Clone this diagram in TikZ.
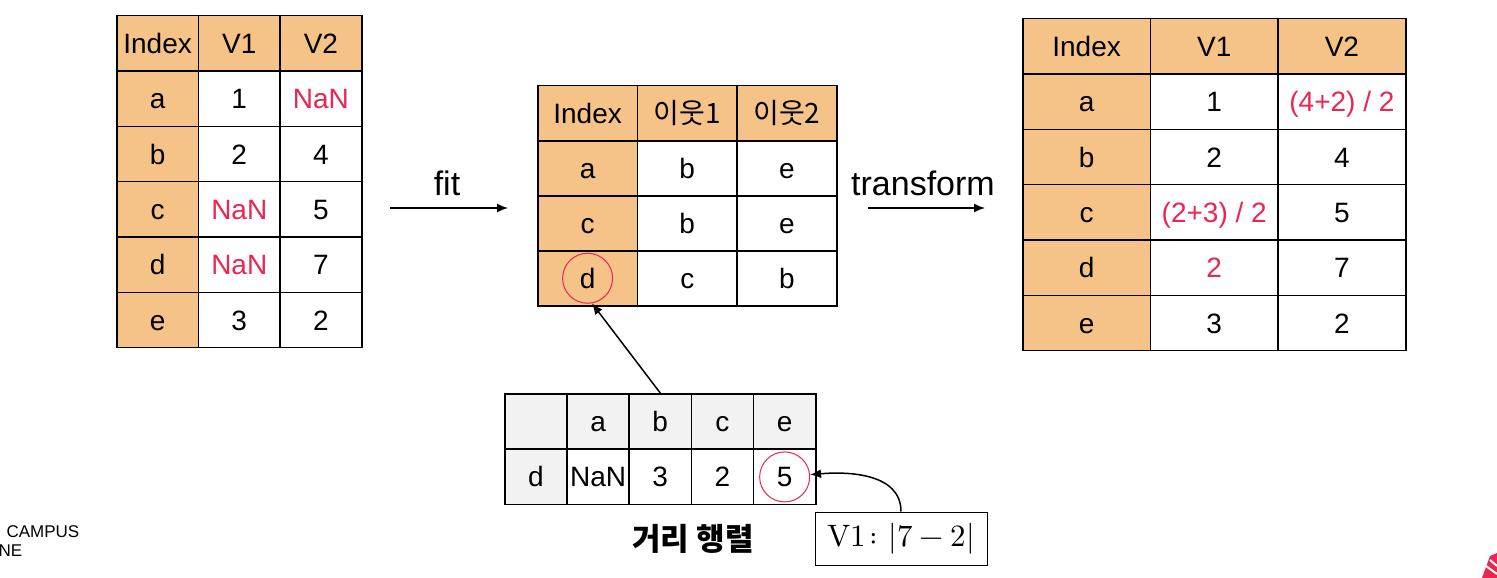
\documentclass[tikz,border=0pt]{standalone}
\usepackage{fontspec}
\usepackage{unicode-math}
\setmainfont{Liberation Sans}
\setmathfont{Latin Modern Math}
\newfontfamily\krfont{Noto Sans CJK KR}
\usetikzlibrary{arrows.meta,positioning}
\definecolor{hdr}{RGB}{245,194,135}
\definecolor{warn}{RGB}{234,38,82}
\definecolor{pale}{RGB}{242,242,242}
\newcommand{\warn}[1]{\textcolor{warn}{#1}}

\tikzset{
  cell/.style={draw, line width=1.5pt, inner sep=0pt, anchor=north west,
    minimum height=55.33, text height=20pt, text depth=0pt,
    font=\fontsize{28}{32}\selectfont},
  hcell/.style={cell, fill=hdr},
  gcell/.style={cell, fill=pale},
  ring/.style={circle, draw=warn, line width=1pt, minimum size=50, inner sep=0pt},
  arr/.style={line width=1.5pt, -{Latex[length=11pt,width=9pt]}},
  lbl/.style={font=\fontsize{34}{38}\selectfont}
}

\begin{document}
\begin{tikzpicture}[x=1pt,y=-1pt]
\useasboundingbox[fill=white] (0,0) rectangle (1497,578);

% input data
\foreach \txt [count=\c from 0] in {Index,V1,V2}
  \node[hcell, minimum width=81.67] (L0\c) at (116+\c*81.67,15) {\txt};
\foreach \i/\a/\b [count=\r] in {a/1/\warn{NaN}, b/2/4, c/\warn{NaN}/5, d/\warn{NaN}/7, e/3/2} {
  \node[hcell, minimum width=81.67] (L\r0) at (116,15+\r*55.33) {\i};
  \node[cell, minimum width=81.67] (L\r1) at (197.67,15+\r*55.33) {\a};
  \node[cell, minimum width=81.67] (L\r2) at (279.33,15+\r*55.33) {\b};
}

% neighbours
\foreach \txt [count=\c from 0] in {Index,{\krfont 이웃1},{\krfont 이웃2}}
  \node[hcell, minimum width=99.67, minimum height=55] (M0\c) at (537+\c*99.67,85) {\txt};
\foreach \i/\a/\b [count=\r] in {a/b/e, c/b/e, d/c/b} {
  \node[hcell, minimum width=99.67, minimum height=55] (M\r0) at (537,85+\r*55) {\i};
  \node[cell, minimum width=99.67, minimum height=55] (M\r1) at (636.67,85+\r*55) {\a};
  \node[cell, minimum width=99.67, minimum height=55] (M\r2) at (736.33,85+\r*55) {\b};
}

% result
\foreach \txt [count=\c from 0] in {Index,V1,V2}
  \node[hcell, minimum width=127.67] (R0\c) at (1022+\c*127.67,18) {\txt};
\foreach \i/\a/\b [count=\r] in {a/1/\warn{(4+2) / 2}, b/2/4, c/\warn{(2+3) / 2}/5, d/\warn{2}/7, e/3/2} {
  \node[hcell, minimum width=127.67] (R\r0) at (1022,18+\r*55.33) {\i};
  \node[cell, minimum width=127.67] (R\r1) at (1149.67,18+\r*55.33) {\a};
  \node[cell, minimum width=127.67] (R\r2) at (1277.33,18+\r*55.33) {\b};
}

% distance matrix
\foreach \txt [count=\c from 0] in {{},a,b,c,e}
  \node[gcell, minimum width=62.2] (D0\c) at (504+\c*62.2,393) {\txt};
\node[gcell, minimum width=62.2] (D10) at (504,448.5) {d};
\foreach \txt [count=\c] in {NaN,3,2,5}
  \node[cell, minimum width=62.2] (D1\c) at (504+\c*62.2,448.5) {\txt};
\node[font=\krfont\bfseries\fontsize{31}{36}\selectfont] (dlbl) at (693,539) {거리 행렬};

% marks
\node[ring] (dring) at (M30.center) {};
\node[ring] (fring) at (D14.center) {};
\node[draw, line width=1pt, minimum width=172, minimum height=53,
  font=\fontsize{31}{36}\selectfont] (vbox) at (901,538.5) {$\symup{V1}\colon|7-2|$};

% arrows
\node[lbl] (fit) at (447,183) {fit};
\coordinate (fitA) at (390,208);
\coordinate (fitB) at (508,208);
\draw[arr] (fitA) -- (fitB);
\node[lbl] (tf) at (923,183) {transform};
\coordinate (tfA) at (868,208);
\coordinate (tfB) at (985,208);
\draw[arr] (tfA) -- (tfB);
\draw[arr] (D02.north) -- (dring.-80);
\draw[arr] (vbox.north) to[out=90,in=5] (fring);

% slide leftovers
\node[anchor=west, font=\fontsize{17}{20}\selectfont] (camp) at (3,532) {CAMPUS};
\node[anchor=west, font=\fontsize{17}{20}\selectfont] (ne) at (-5,551) {NE};
\fill[warn] (1482,578) -- (1490,556) -- (1497,553) -- (1497,578) -- cycle;
\draw[white, line width=2pt] (1486,566) -- (1497,574) (1490,560) -- (1497,566);
\end{tikzpicture}
\end{document}
